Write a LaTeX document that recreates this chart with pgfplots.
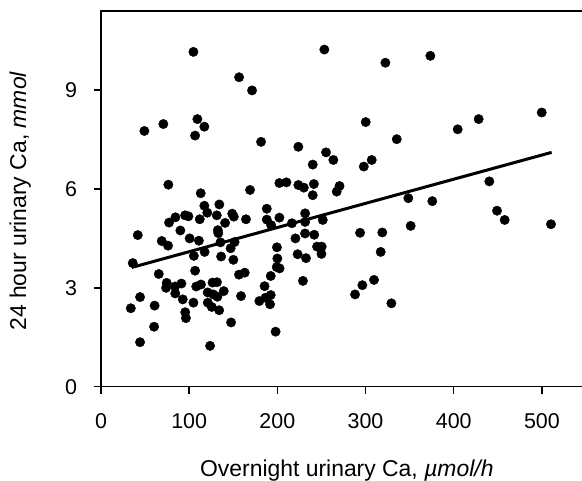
\documentclass[border=0pt]{standalone}
\usepackage{fontspec}
\setmainfont{Liberation Sans}
\usepackage{pgfplots}
\pgfplotsset{compat=1.18}
\begin{document}
\begin{tikzpicture}
\begin{axis}[
  name=ax,
  scale only axis,
  width=482bp, height=375.7bp,
  xmin=0, xmax=546.6, ymin=0, ymax=11.4,
  xtick={0,100,200,300,400,500},
  ytick={0,3,6,9},
  tick align=outside,
  tick pos=left,
  major tick length=7bp,
  axis line style={line width=1.5bp},
  every tick/.style={line width=1.5bp, black},
  /pgf/number format/assume math mode=true,
  tick label style={font=\fontsize{21.5}{25}\selectfont, inner sep=0pt},
  xticklabel style={anchor=base, yshift=-34.6bp},
  yticklabel style={anchor=east, xshift=-16.7bp},
  xlabel={Overnight urinary Ca, \textit{µmol/h}},
  ylabel={24 hour urinary Ca, \textit{mmol}},
  label style={font=\fontsize{23}{27}\selectfont, inner sep=0pt},
  xlabel style={at={(axis description cs:0.510,-0.2396)}, anchor=base},
  ylabel style={at={(axis description cs:-0.1556,0.494)}, anchor=base, rotate=0},
  clip=false,
]
\addplot[only marks, mark=*, mark size=4.7bp, black] coordinates {
(104.8,10.16) (49.2,7.76) (70.7,7.97) (109.3,8.12) (117.2,7.89) (106.7,7.62)
(253.3,10.23) (156.6,9.39) (171.3,8.99) (181.5,7.43) (223.8,7.28) (255.2,7.11) (263.5,6.88) (240.1,6.74)
(322.5,9.83) (373.5,10.04) (300.2,8.03) (404.5,7.81) (428.3,8.12) (499.8,8.32) (335.4,7.51) (307,6.88) (298,6.68)
(440.4,6.23) (202.3,6.18) (210.3,6.20) (223.8,6.12) (230,6.04) (241.4,6.15) (240.1,5.81) (270.5,6.09) (267.3,5.92) (169,5.97) (348.5,5.72) (375.7,5.63) (76.4,6.13) (113.1,5.87)
(351.2,4.88) (449.1,5.34) (457.8,5.06) (510.3,4.93) (293.8,4.67) (319,4.68) (317.2,4.09) (309.6,3.24) (296.4,3.08) (288.1,2.80) (329.3,2.53)
(188,5.40) (188,5.07) (202.3,5.13) (193,4.90) (216.5,4.96) (231.5,5.26) (231.5,5.00) (251.5,5.06) (231.4,4.65) (241.8,4.61) (220.5,4.50) (199.5,4.23) (200,3.89) (199.3,3.63) (202.5,3.59) (223,4.02) (232.5,3.90) (245,4.25) (250.3,4.25) (250,4.03) (192.5,3.36) (185.5,3.05) (179.6,2.60) (186.5,2.70) (192.5,2.78) (191.7,2.50) (198,1.67) (229,3.21)
(41.7,4.60) (36,3.75) (68.9,4.42) (76,4.28) (77.2,4.98) (84.4,5.14) (95.4,5.20) (99.1,5.17) (90,4.74) (100.5,4.50) (111,4.43) (65.5,3.42) (74.5,3.15) (73.8,3.00) (84,3.04) (84.2,2.83) (92.7,2.65) (91.2,3.13) (95.5,2.26) (96.3,2.08) (44.3,2.72) (33.8,2.38) (60.8,2.46) (60.2,1.82) (44.3,1.35)
(117.2,5.49) (120.5,5.28) (134.2,5.53) (148.8,5.25) (150.6,5.16) (164.4,5.08) (112,5.08) (131.3,5.20) (140.7,4.97) (132.5,4.75) (133,4.66) (135.5,4.38) (151.5,4.39) (147,4.20) (117.5,4.09) (105.3,3.97) (136.2,3.95) (150.1,3.85) (106.7,3.52) (156.5,3.40) (163,3.46) (108,3.04) (113.4,3.10) (126.5,3.16) (131.5,3.17) (139.2,2.90) (121,2.86) (127.4,2.80) (132,2.73) (121.1,2.55) (125.6,2.42) (134,2.32) (104.8,2.55) (158.8,2.75) (147.5,1.95) (123.7,1.24)
};
\addplot[black, line width=3bp, no marks] coordinates {(35,3.62) (511,7.11)};
\end{axis}
\pgfresetboundingbox
\path (ax.south west) ++(-101bp,-94.3bp) rectangle ++(582bp,481bp);
\end{tikzpicture}
\end{document}
